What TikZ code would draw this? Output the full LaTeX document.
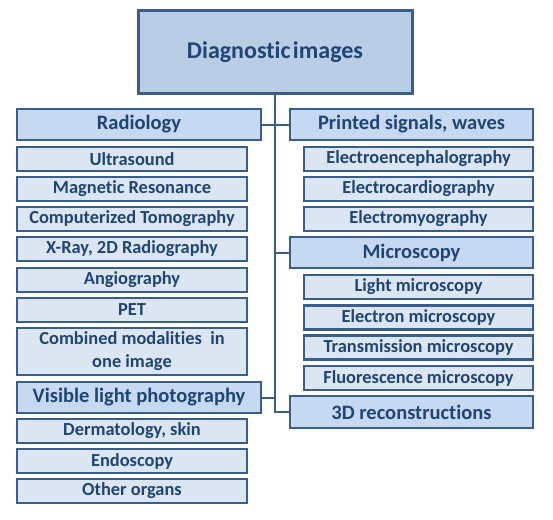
\documentclass[tikz,border=0pt]{standalone}
\usepackage{fontspec}
\setmainfont[Ligatures=NoCommon]{Carlito}
\definecolor{edge}{HTML}{3A5E8C}
\definecolor{ink}{HTML}{1F4575}
\definecolor{topfill}{HTML}{B9CDE5}
\definecolor{secfill}{HTML}{C6D9F1}
\definecolor{subfill}{HTML}{DCE6F2}
\tikzset{
  box/.style={draw=edge, rectangle, inner sep=0pt, align=center, text=ink, font=\bfseries},
  topbox/.style={box, fill=topfill, line width=3pt, minimum width=274pt, minimum height=82pt, font=\fontsize{24}{27}\selectfont\bfseries},
  secL/.style={box, fill=secfill, line width=2.5pt, minimum width=244pt, minimum height=31pt, font=\fontsize{20.5}{23}\selectfont\bfseries},
  secR/.style={box, fill=secfill, line width=2.5pt, minimum width=243pt, minimum height=31pt, font=\fontsize{20.5}{23}\selectfont\bfseries},
  subL/.style={box, fill=subfill, line width=2.2pt, minimum width=230pt, minimum height=24pt, font=\fontsize{18.4}{21}\selectfont\bfseries},
  subR/.style={box, fill=subfill, line width=2.2pt, minimum width=229pt, minimum height=24pt, font=\fontsize{18.4}{21}\selectfont\bfseries},
  conn/.style={draw=edge, line width=2pt},
}
\begin{document}
\begin{tikzpicture}[x=1pt,y=-1pt]
\useasboundingbox[fill=white] (0,0) rectangle (553,519);
% root
\node[topbox] (root) at (275,52) {Diagnostic\hspace{0.1em}images};
% left column
\node[secL] (rad) at (139,124.5) {Radiology};
\node[subL] (us) at (132,159) {Ultrasound};
\node[subL] (mr) at (132,189) {Magnetic Resonance};
\node[subL] (ct) at (132,219) {Computerized Tomography};
\node[subL] (xr) at (132,249) {X-Ray, 2D Radiography};
\node[subL] (ang) at (132,280) {Angiography};
\node[subL] (pet) at (132,310) {PET};
\node[subL, minimum height=47pt, font=\fontsize{18.4}{23}\selectfont\bfseries] (comb) at (132,351.5) {Combined modalities~ in\\one image};
\node[secL] (vis) at (139,397.5) {Visible light photography};
\node[subL] (derm) at (132,431) {Dermatology, skin};
\node[subL] (endo) at (132,461) {Endoscopy};
\node[subL] (oth) at (132,491) {Other organs};
% right column
\node[secR] (sig) at (411.5,124.5) {Printed signals, waves};
\node[subR] (eeg) at (418.5,159) {Electroencephalography};
\node[subR] (ecg) at (418.5,189) {Electrocardiography};
\node[subR] (emg) at (418.5,219) {Electromyography};
\node[secR] (mic) at (411.5,252.5) {Microscopy};
\node[subR] (lm) at (418.5,287) {Light microscopy};
\node[subR] (em) at (418.5,317.5) {Electron microscopy};
\node[subR] (tm) at (418.5,347.5) {Transmission microscopy};
\node[subR] (fm) at (418.5,378) {Fluorescence microscopy};
\node[secR, minimum height=32pt] (rec) at (411.5,412) {3D reconstructions};
% connectors
\draw[conn] (root.south) |- (rec.west);
\draw[conn] (rad.east) -- (sig.west);
\draw[conn] (root.south |- mic.west) -- (mic.west);
\draw[conn] (vis.east) -- (root.south |- vis.east);
\end{tikzpicture}
\end{document}
